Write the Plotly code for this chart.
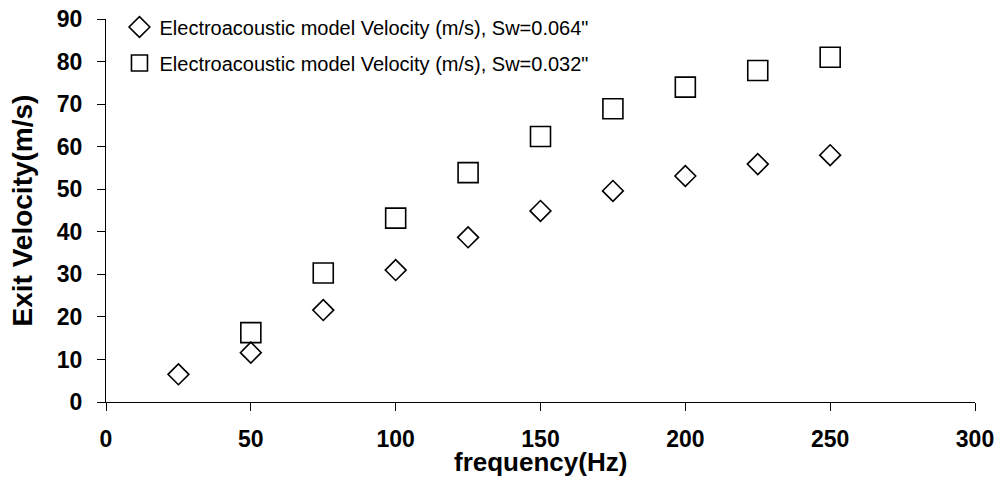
import plotly.graph_objects as go

freq_064 = [25, 50, 75, 100, 125, 150, 175, 200, 225, 250]
vel_064 = [6.5, 11.6, 21.6, 31.0, 38.7, 44.9, 49.6, 53.1, 55.9, 58.0]

freq_032 = [50, 75, 100, 125, 150, 175, 200, 225, 250]
vel_032 = [16.3, 30.3, 43.2, 53.9, 62.4, 68.9, 74.0, 77.9, 81.0]

name_064 = 'Electroacoustic model Velocity (m/s), Sw=0.064"'
name_032 = 'Electroacoustic model Velocity (m/s), Sw=0.032"'

x_ticks = [0, 50, 100, 150, 200, 250, 300]
y_ticks = [0, 10, 20, 30, 40, 50, 60, 70, 80, 90]

fig = go.Figure()
fig.add_trace(go.Scatter(
    x=freq_064, y=vel_064, mode="markers", name=name_064, legendgroup="a",
    marker=dict(symbol="diamond-open", size=16, color="black", line=dict(width=1.6, color="black")),
))
fig.add_trace(go.Scatter(
    x=freq_032, y=vel_032, mode="markers", name=name_032, legendgroup="b",
    marker=dict(symbol="square-open", size=20, color="black", line=dict(width=1.6, color="black")),
))

font_family = "Liberation Sans, Arial, sans-serif"

fig.update_layout(
    width=1001, height=477,
    margin=dict(l=106, r=26, t=19, b=75, autoexpand=False),
    paper_bgcolor="white", plot_bgcolor="white",
    font=dict(family=font_family, color="black"),
    showlegend=True,
    legend=dict(
        x=0.0155, y=1.03, xanchor="left", yanchor="top",
        font=dict(size=20, family=font_family, color="black"),
        bgcolor="rgba(0,0,0,0)", borderwidth=0,
        traceorder="grouped", tracegroupgap=7,
    ),
    xaxis=dict(
        range=[0, 300], tickvals=x_ticks, ticktext=[str(v) for v in x_ticks],
        showgrid=False, zeroline=False, showline=True, linecolor="black", linewidth=1,
        ticks="outside", ticklen=8, tickcolor="black", tickwidth=1,
        tickfont=dict(size=23, family=font_family, weight="bold"),
        ticklabelstandoff=8, automargin=False, ticklabeloverflow="allow",
    ),
    yaxis=dict(
        range=[0, 90], tickvals=y_ticks, ticktext=[str(v) for v in y_ticks],
        showgrid=False, zeroline=False, showline=True, linecolor="black", linewidth=1,
        ticks="outside", ticklen=8, tickcolor="black", tickwidth=1,
        tickfont=dict(size=23, family=font_family, weight="bold"),
        ticklabelstandoff=10, automargin=False, ticklabeloverflow="allow",
        title=dict(text="<b>Exit Velocity(m/s)</b>", font=dict(size=28, family=font_family), standoff=16),
    ),
    annotations=[dict(
        text="<b>frequency(Hz)</b>", xref="paper", yref="paper", x=0.5, y=-0.156,
        xanchor="center", yanchor="middle", showarrow=False,
        font=dict(size=26, family=font_family, color="black"),
    )],
)

# remove the browser's default 8px body margin so the figure fills the window
fig.write_html(
    "out.html",
    config={"displayModeBar": False},
    post_script="document.body.style.margin='0';document.body.style.overflow='hidden';",
)
